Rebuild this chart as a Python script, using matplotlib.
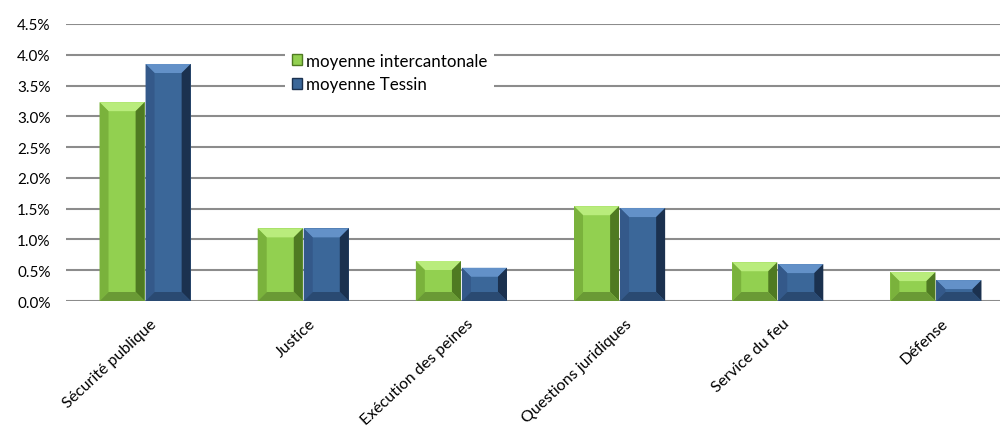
import numpy as np
import matplotlib.pyplot as plt
import matplotlib.transforms as mtransforms
from matplotlib.patches import Polygon, Patch
from matplotlib.ticker import FuncFormatter, MultipleLocator

plt.rcParams['font.family'] = ['Lato', 'DejaVu Sans']

categories = ['Sécurité publique', 'Justice', 'Exécution des peines',
              'Questions juridiques', 'Service du feu', 'Défense']
inter = [3.23, 1.18, 0.65, 1.54, 0.63, 0.47]   # moyenne intercantonale (%)
tessin = [3.85, 1.18, 0.54, 1.51, 0.60, 0.34]  # moyenne Tessin (%)
series_names = ['moyenne intercantonale', 'moyenne Tessin']

# face, top, left, right, bottom shades
green = ['#92d050', '#b9ec7c', '#7ab23c', '#4f7a22', '#6a9a35']
blue = ['#3b6799', '#6391c8', '#34598a', '#1b314f', '#2a4a72']

fig = plt.figure(figsize=(10, 4.27), dpi=100)
ax = fig.add_axes([0.066, 0.2927, 0.949, 0.6488])

x = np.arange(len(categories))
w = 0.285
ax.set_xlim(-0.5, len(categories) - 0.5)
ax.set_ylim(0, 4.5)

# pixels per data unit, to keep the bevel a constant size on screen
px_x = 949 / len(categories)
px_y = 277 / 4.5
bev = 9  # bevel in pixels


def bevel_bar(x0, h, cols):
    x1 = x0 + w
    bx = bev / px_x
    by = min(bev / px_y, h / 2)
    ax.bar(x0, h, w, align='edge', color=cols[0], zorder=3, linewidth=0)
    polys = [
        ([(x0, h), (x1, h), (x1 - bx, h - by), (x0 + bx, h - by)], cols[1]),
        ([(x0, 0), (x0 + bx, by), (x0 + bx, h - by), (x0, h)], cols[2]),
        ([(x1, 0), (x1, h), (x1 - bx, h - by), (x1 - bx, by)], cols[3]),
        ([(x0, 0), (x1, 0), (x1 - bx, by), (x0 + bx, by)], cols[4]),
    ]
    for pts, c in polys:
        ax.add_patch(Polygon(pts, closed=True, facecolor=c, edgecolor='none', zorder=4))


for i in range(len(categories)):
    bevel_bar(x[i] - w - 0.003, inter[i], green)
    bevel_bar(x[i] + 0.003, tessin[i], blue)

ax.yaxis.set_major_locator(MultipleLocator(0.5))
ax.yaxis.set_major_formatter(FuncFormatter(lambda v, p: f'{v:.1f}%'))
ax.grid(axis='y', color='#8c8c8c', linewidth=1.5, zorder=0)
for s in ax.spines.values():
    s.set_visible(False)
ax.tick_params(axis='y', length=0, pad=11, labelsize=11)
ax.tick_params(axis='x', length=0, pad=11)
ax.set_xticks(x)
ax.set_xticklabels(categories, rotation=43, ha='right', rotation_mode='anchor',
                   fontsize=11.5)
# shift labels so their right end sits slightly right of the category centre
off = mtransforms.ScaledTranslation(5 / 100, 0, fig.dpi_scale_trans)
for lbl in ax.get_xticklabels():
    lbl.set_transform(lbl.get_transform() + off)

handles = [Patch(facecolor=green[0], edgecolor=green[3]),
           Patch(facecolor=blue[0], edgecolor=blue[3])]
leg = ax.legend(handles, series_names, loc='upper left',
                bbox_to_anchor=(0.222, 0.952), frameon=True, fontsize=12.2,
                handlelength=0.6, handleheight=0.6, handletextpad=0.25,
                labelspacing=0.45, borderpad=0.4, fancybox=False)
leg.get_frame().set_edgecolor('none')
leg.get_frame().set_facecolor('white')
leg.get_frame().set_alpha(1)
leg.set_zorder(5)

fig.savefig('out.png', dpi=100)
